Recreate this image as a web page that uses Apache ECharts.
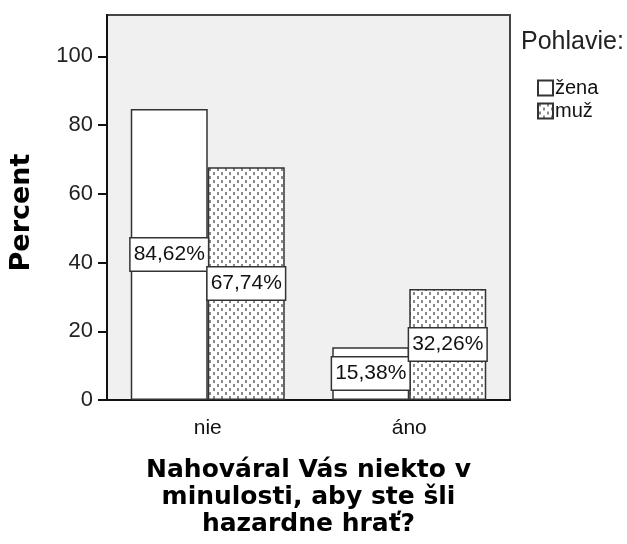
<!DOCTYPE html>
<html><head><meta charset="utf-8">
<script src="https://cdn.jsdelivr.net/npm/echarts@6/dist/echarts.min.js"></script>
<style>html,body{margin:0;padding:0;background:#fff}#c{width:627px;height:544px}</style>
</head><body><div id="c"></div>
<script>
const categories = ['nie', 'áno'];
const seriesNames = ['žena', 'muž'];
const zenaValues = [84.62, 15.38];
const muzValues = [67.74, 32.26];
const yTicks = [0, 20, 40, 60, 80, 100];
const legendTitle = 'Pohlavie:';
const xTitle = 'Nahováral Vás niekto v\nminulosti, aby ste šli\nhazardne hrať?';
const yTitle = 'Percent';

function makePattern() {
  const c = document.createElement('canvas');
  c.width = 8; c.height = 8;
  const g = c.getContext('2d');
  g.fillStyle = '#ffffff'; g.fillRect(0, 0, 8, 8);
  g.fillStyle = '#8a8a8a';
  g.fillRect(1, 0, 2, 3);
  g.fillRect(5, 4, 2, 3);
  return c;
}
const sans = '"Liberation Sans", Arial, sans-serif';
const bold = '"DejaVu Sans", Verdana, sans-serif';
const labelStyle = {
  show: true,
  position: 'inside',
  formatter: p => p.value.toFixed(2).replace('.', ',') + '%',
  fontFamily: sans,
  fontSize: 21,
  color: '#111',
  backgroundColor: '#ffffff',
  borderColor: '#333',
  borderWidth: 1.5,
  padding: [6, 3, 5, 3]
};
const chart = echarts.init(document.getElementById('c'), null, {renderer: 'canvas'});
chart.setOption({
  animation: false,
  backgroundColor: '#ffffff',
  title: {
    text: legendTitle, left: 521, top: 30, padding: 0,
    textStyle: {fontFamily: sans, fontSize: 25, fontWeight: 'normal', color: '#222'}
  },
  legend: {
    orient: 'vertical', left: 537, top: 78, padding: 0,
    itemWidth: 15, itemHeight: 15, itemGap: 3,
    icon: 'rect',
    data: seriesNames,
    textStyle: {fontFamily: sans, fontSize: 20, color: '#111', padding: [0, 0, 0, -3]}
  },
  grid: {
    left: 107, right: 117, top: 15, bottom: 144,
    show: true, backgroundColor: '#f0f0f0', borderColor: '#444', borderWidth: 2
  },
  xAxis: {
    type: 'category',
    data: categories,
    axisLine: {lineStyle: {color: '#111', width: 2}},
    axisTick: {alignWithLabel: true, length: 13, lineStyle: {color: '#111', width: 2}},
    axisLabel: {fontFamily: sans, fontSize: 21, color: '#111', margin: 18},
    name: xTitle,
    nameLocation: 'middle',
    nameGap: 57,
    nameTextStyle: {fontFamily: bold, fontWeight: 'bold', fontSize: 25, lineHeight: 27, color: '#000', align: 'center'}
  },
  yAxis: {
    type: 'value', min: 0, max: 112, interval: 20,
    splitLine: {show: false},
    axisLine: {show: true, lineStyle: {color: '#111', width: 2}},
    axisTick: {show: true, length: 9, customValues: yTicks, lineStyle: {color: '#111', width: 2}},
    axisLabel: {fontFamily: sans, fontSize: 22, color: '#222', margin: 14, customValues: yTicks},
    name: yTitle,
    nameLocation: 'middle',
    nameGap: 72,
    nameTextStyle: {fontFamily: bold, fontWeight: 'bold', fontSize: 27, color: '#000', padding: [0, 10, 0, 0]}
  },
  series: [
    {
      name: seriesNames[0], type: 'bar', data: zenaValues, barWidth: 77, barGap: '0%',
      itemStyle: {color: '#ffffff', borderColor: '#333', borderWidth: 1.5},
      label: labelStyle, z: 2
    },
    {
      name: seriesNames[1], type: 'bar', data: muzValues, barWidth: 77,
      itemStyle: {color: {image: makePattern(), repeat: 'repeat'}, borderColor: '#333', borderWidth: 1.5},
      label: labelStyle, z: 2
    }
  ]
});
</script></body></html>
